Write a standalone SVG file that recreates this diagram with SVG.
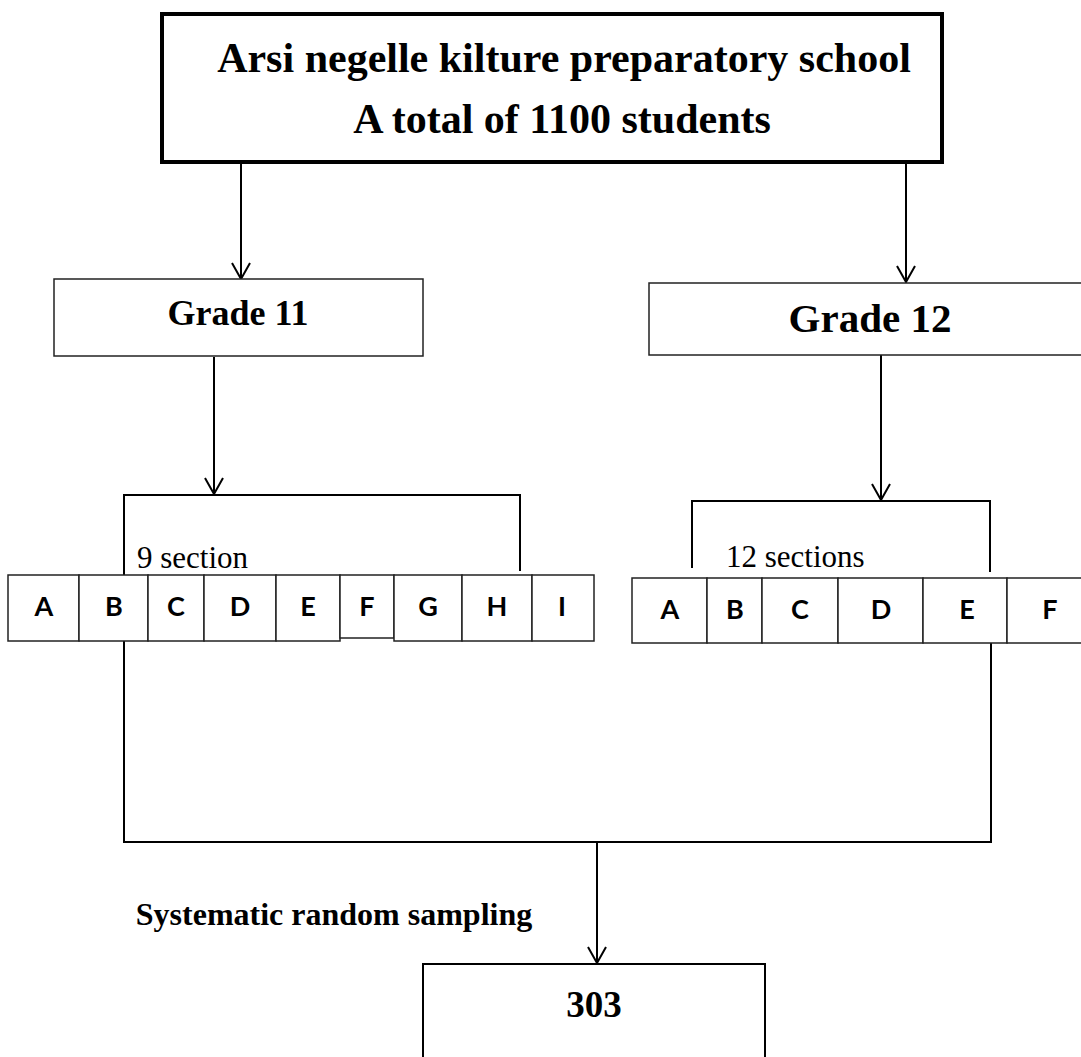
<svg xmlns="http://www.w3.org/2000/svg" width="1081" height="1057" viewBox="0 0 1081 1057">
<style>
.t{font-family:"Liberation Serif","Times New Roman",serif;font-weight:bold;fill:#000;text-anchor:middle}
.r{font-family:"Liberation Serif","Times New Roman",serif;fill:#000}
.l{font-family:Lato,"Liberation Sans",sans-serif;font-weight:bold;font-size:27px;fill:#000;text-anchor:middle}
.box{fill:#fff;stroke:#222;stroke-width:1.5}
.cell{fill:#fff;stroke:#222;stroke-width:1.5}
.ln{fill:none;stroke:#000;stroke-width:2}
</style>
<defs>
<marker id="ah" viewBox="0 0 20 20" refX="19" refY="10" markerWidth="20" markerHeight="20" markerUnits="userSpaceOnUse" orient="auto">
<path d="M3,1 L19,10 L3,19" fill="none" stroke="#000" stroke-width="2"/>
</marker>
</defs>
<rect width="1081" height="1057" fill="#fff"/>
<g id="connectors">
<line class="ln" x1="241" y1="163" x2="241" y2="279" marker-end="url(#ah)"/>
<line class="ln" x1="906" y1="163" x2="906" y2="282" marker-end="url(#ah)"/>
<line class="ln" x1="214" y1="357" x2="214" y2="494" marker-end="url(#ah)"/>
<line class="ln" x1="881" y1="355" x2="881" y2="500" marker-end="url(#ah)"/>
<polyline class="ln" points="124,575 124,495 520,495 520,571"/>
<polyline class="ln" points="692,568 692,501 990,501 990,572"/>
<polyline class="ln" points="124,641 124,842 991,842 991,643"/>
<line class="ln" x1="597" y1="842" x2="597" y2="963" marker-end="url(#ah)"/>
</g>
<g id="top">
<rect x="162" y="14" width="780" height="148" fill="#fff" stroke="#000" stroke-width="4"/>
<text class="t" x="564" y="72" font-size="42">Arsi negelle kilture preparatory school</text>
<text class="t" x="562" y="133" font-size="42">A total of 1100 students</text>
</g>
<g id="grade11">
<rect class="box" x="54" y="279" width="369" height="77"/>
<text class="t" x="238" y="325" font-size="36">Grade 11</text>
</g>
<g id="grade12">
<rect class="box" x="649" y="283" width="450" height="72"/>
<text class="t" x="870" y="332" font-size="41">Grade 12</text>
</g>
<g id="label9">
<text class="r" x="137" y="568" font-size="31">9 section</text>
</g>
<g id="label12">
<text class="r" x="726" y="567" font-size="31">12 sections</text>
</g>
<g id="sections11">
<rect class="cell" x="8" y="575" width="71" height="66"/>
<rect class="cell" x="79" y="575" width="69" height="66"/>
<rect class="cell" x="148" y="575" width="56" height="66"/>
<rect class="cell" x="204" y="575" width="72" height="66"/>
<rect class="cell" x="276" y="575" width="64" height="66"/>
<rect class="cell" x="340" y="575" width="54" height="63"/>
<rect class="cell" x="394" y="575" width="68" height="66"/>
<rect class="cell" x="462" y="575" width="70" height="66"/>
<rect class="cell" x="532" y="575" width="62" height="66"/>
<text class="l" x="44" y="616">A</text>
<text class="l" x="114" y="616">B</text>
<text class="l" x="176" y="616">C</text>
<text class="l" x="240" y="616">D</text>
<text class="l" x="308" y="616">E</text>
<text class="l" x="367" y="616">F</text>
<text class="l" x="428" y="616">G</text>
<text class="l" x="497" y="616">H</text>
<text class="l" x="562" y="616">I</text>
</g>
<g id="sections12">
<rect class="cell" x="632" y="578" width="75" height="65"/>
<rect class="cell" x="707" y="578" width="55" height="65"/>
<rect class="cell" x="762" y="578" width="76" height="65"/>
<rect class="cell" x="838" y="578" width="85" height="65"/>
<rect class="cell" x="923" y="578" width="84" height="65"/>
<rect class="cell" x="1007" y="578" width="90" height="65"/>
<text class="l" x="670" y="619">A</text>
<text class="l" x="735" y="619">B</text>
<text class="l" x="800" y="619">C</text>
<text class="l" x="881" y="619">D</text>
<text class="l" x="967" y="619">E</text>
<text class="l" x="1050" y="619">F</text>
</g>
<g id="sampling">
<text class="t" x="334" y="925" font-size="32">Systematic random sampling</text>
</g>
<g id="result">
<rect x="423" y="964" width="342" height="110" fill="#fff" stroke="#000" stroke-width="2"/>
<text class="t" x="594" y="1017" font-size="37">303</text>
</g>
</svg>
